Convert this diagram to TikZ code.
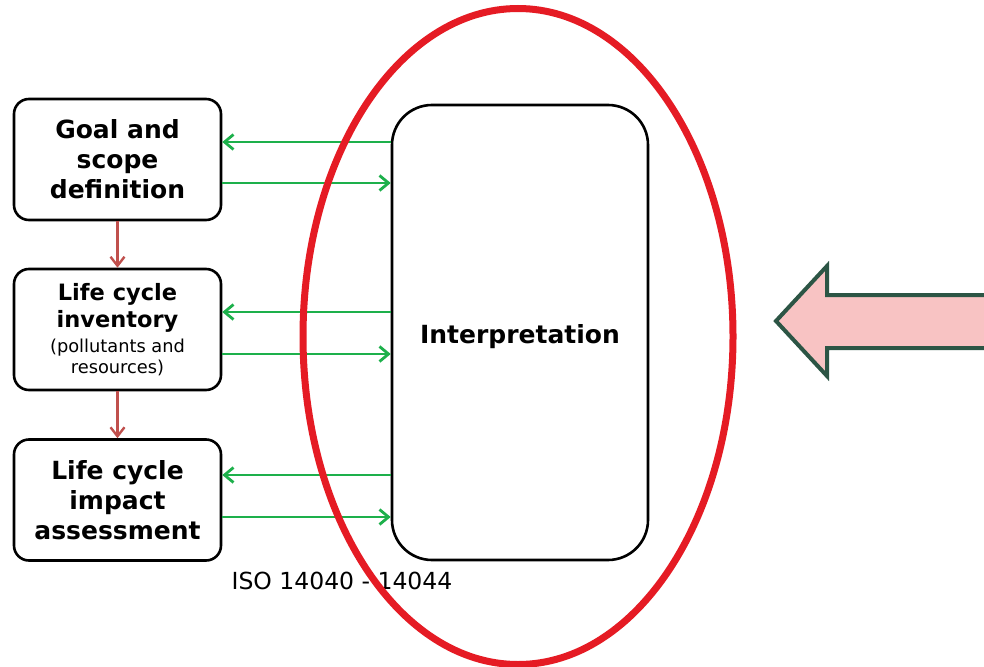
\documentclass[tikz,border=0pt]{standalone}
\usepackage{fontspec}
\setmainfont{DejaVu Sans}
\usetikzlibrary{arrows.meta}
\definecolor{flowgreen}{HTML}{1DB04B}
\definecolor{steprust}{HTML}{C0504D}
\definecolor{ringred}{HTML}{E51B24}
\definecolor{arrowpink}{HTML}{F8C3C3}
\definecolor{arrowedge}{HTML}{2C5545}
% type sizes for the box labels; inter-word space is the font's own, without stretch
\newcommand{\fixspace}{\spaceskip=\fontdimen2\font\relax\xspaceskip=\fontdimen2\font\relax}
\newcommand{\bigbold}{\fontsize{25}{30}\selectfont\bfseries\fixspace}
\newcommand{\midbold}{\fontsize{22.5}{27}\selectfont\bfseries\fixspace}
\newcommand{\smallreg}{\fontsize{17.8}{21}\selectfont\mdseries\fixspace}
\tikzset{
  stagebox/.style={draw=black, line width=2.6pt, rounded corners=15pt, fill=white,
    minimum width=207pt, minimum height=121pt, text width=200pt, align=center, inner sep=0pt},
  interpbox/.style={draw=black, line width=2.6pt, rounded corners=40pt, fill=white,
    minimum width=256pt, minimum height=455pt, inner sep=0pt},
  garrow/.style={draw=flowgreen, line width=2.8pt, -{Straight Barb[length=9pt,width=15pt,line width=2.8pt]}},
  rarrow/.style={draw=steprust, line width=2.4pt, -{Straight Barb[length=9pt,width=14pt,line width=2.4pt]}},
}
\begin{document}
\begin{tikzpicture}[x=1pt,y=-1pt]
\useasboundingbox (0,0) rectangle (984,666);
\fill[white] (0,0) rectangle (984,666);

% stage boxes
\node[stagebox] (goal) at (117.5,159.5)
  {\bigbold Goal and\\ scope\\ definition\par};
\node[stagebox] (lci) at (117.5,329.5)
  {{\midbold Life cycle\\ inventory\par}\vspace{4pt}%
   {\smallreg (pollutants and\\ resources)\par}};
\node[stagebox] (lcia) at (117.5,500)
  {\bigbold Life cycle\\ impact\\ assessment\par};

% interpretation box
\node[interpbox] (interp) at (520,332.5) {};
\node[font={\fontsize{25}{30}\selectfont\bfseries}] (interptext) at ([yshift=-4pt]interp.center) {Interpretation};

% sequence arrows
\draw[rarrow] (goal.south) -- (lci.north);
\draw[rarrow] (lci.south) -- (lcia.north);

% exchanges with interpretation
\draw[garrow] ([yshift=17.5pt]goal.east -| interp.west) -- ([yshift=17.5pt]goal.east);
\draw[garrow] ([yshift=-23.5pt]goal.east) -- ([yshift=-23.5pt]goal.east -| interp.west);
\draw[garrow] ([yshift=17.5pt]lci.east -| interp.west) -- ([yshift=17.5pt]lci.east);
\draw[garrow] ([yshift=-24.5pt]lci.east) -- ([yshift=-24.5pt]lci.east -| interp.west);
\draw[garrow] ([yshift=25pt]lcia.east -| interp.west) -- ([yshift=25pt]lcia.east);
\draw[garrow] ([yshift=-17pt]lcia.east) -- ([yshift=-17pt]lcia.east -| interp.west);

% standard reference
\node[font={\fontsize{23.5}{28}\selectfont}] (iso) at (342,581) {ISO 14040 - 14044};

% highlight ring
\draw[ringred, line width=7pt] (518,336.5) ellipse [x radius=215, y radius=328];

% pointer arrow
\fill[arrowpink] (986,295) -- (827,295) -- (827,266) -- (776,321) -- (827,376) -- (827,348) -- (986,348) -- cycle;
\draw[arrowedge, line width=4pt, line join=miter] (986,295) -- (827,295) -- (827,266) -- (776,321) -- (827,376) -- (827,348) -- (986,348);
\end{tikzpicture}
\end{document}
